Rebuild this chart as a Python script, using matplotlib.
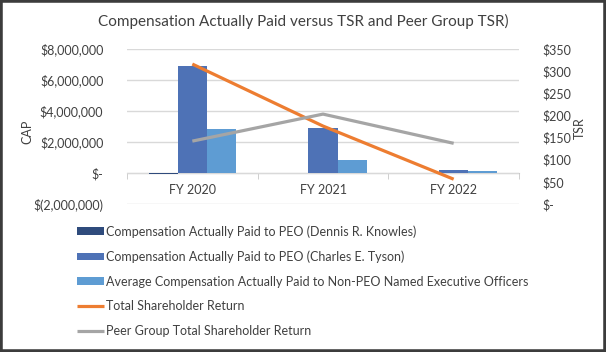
import matplotlib
matplotlib.use("Agg")
import matplotlib.pyplot as plt
from matplotlib.patches import Rectangle
from matplotlib.ticker import FuncFormatter, MultipleLocator

plt.rcParams['font.family'] = ['Lato', 'DejaVu Sans']

# data
years = ["FY 2020", "FY 2021", "FY 2022"]
cap_knowles = [-80000, 0, 0]
cap_tyson = [6920000, 2880000, 220000]
cap_neo = [2820000, 850000, 150000]
tsr = [316, 176, 56]
peer_tsr = [142, 203, 137]

labels = [
    "Compensation Actually Paid to PEO (Dennis R. Knowles)",
    "Compensation Actually Paid to PEO (Charles E. Tyson)",
    "Average Compensation Actually Paid to Non-PEO Named Executive Officers",
    "Total Shareholder Return",
    "Peer Group Total Shareholder Return",
]

txt = '#404040'
grid_c = '#d9d9d9'

fig = plt.figure(figsize=(6.06, 3.52), dpi=100)
ax = fig.add_axes([127 / 606, 1 - 204 / 352, (519 - 127) / 606, (204 - 49) / 352])

x = list(range(len(years)))
w = 1 / 4.5
b1 = ax.bar([i - w for i in x], cap_knowles, w, color='#2f4b7c', label=labels[0], zorder=2)
b2 = ax.bar(x, cap_tyson, w, color='#4e72b6', label=labels[1], zorder=2)
b3 = ax.bar([i + w for i in x], cap_neo, w, color='#5e9cd3', label=labels[2], zorder=2)

ax.set_xlim(-0.5, 2.5)
ax.set_ylim(-2000000, 8000000)
ax.yaxis.set_major_locator(MultipleLocator(2000000))


def money(v, pos):
    if v == 0:
        return "$-"
    if v < 0:
        return "$({:,.0f})".format(-v)
    return "${:,.0f}".format(v)


ax.yaxis.set_major_formatter(FuncFormatter(money))
ax.grid(axis='y', color=grid_c, linewidth=1, zorder=0)
for s in ['left', 'right', 'top']:
    ax.spines[s].set_visible(False)
ax.spines['bottom'].set_position(('data', 0))
ax.spines['bottom'].set_color('#c8c8c8')
ax.spines['bottom'].set_zorder(1)
ax.set_xticks(x)
ax.set_xticklabels(years)
ax.set_xticks([-0.5, 0.5, 1.5, 2.5], minor=True)
ax.tick_params(axis='x', which='major', length=0, pad=8, labelsize=9, labelcolor=txt)
ax.tick_params(axis='x', which='minor', length=4, direction='out', color='#c8c8c8')
ax.tick_params(axis='y', length=0, pad=17, labelsize=9, labelcolor=txt)

ax2 = ax.twinx()
l1, = ax2.plot(x, tsr, color='#ed7d31', linewidth=2.3, label=labels[3], solid_capstyle='butt')
l2, = ax2.plot(x, peer_tsr, color='#a5a5a5', linewidth=2.3, label=labels[4], solid_capstyle='butt')
ax2.set_ylim(0, 350)
ax2.yaxis.set_major_locator(MultipleLocator(50))
ax2.yaxis.set_major_formatter(FuncFormatter(lambda v, p: "$-" if v == 0 else "${:.0f}".format(v)))
for s in ax2.spines.values():
    s.set_visible(False)
ax2.tick_params(axis='y', length=0, pad=17, labelsize=9, labelcolor=txt)

fig.text(0.5, 1 - 21 / 352, "Compensation Actually Paid versus TSR and Peer Group TSR)",
         ha='center', va='center', fontsize=11, color=txt)
fig.text(27 / 606, 1 - 132 / 352, "CAP", rotation=90, ha='center', va='center', fontsize=9, color=txt)
fig.text(580 / 606, 1 - 128 / 352, "TSR", rotation=90, ha='center', va='center', fontsize=9, color=txt)

fig.legend(handles=[b1, b2, b3, l1, l2], loc='upper left', bbox_to_anchor=(77 / 606, 1 - 225 / 352),
           frameon=False, fontsize=9, labelcolor=txt, handlelength=2.15, handleheight=0.54,
           handletextpad=0.2, labelspacing=1.02, borderpad=0, borderaxespad=0)

fig.patches.append(Rectangle((0, 0), 1, 1, transform=fig.transFigure, fill=False,
                             linewidth=4, edgecolor='#3c3c3c'))

fig.savefig("out.png", dpi=100)
